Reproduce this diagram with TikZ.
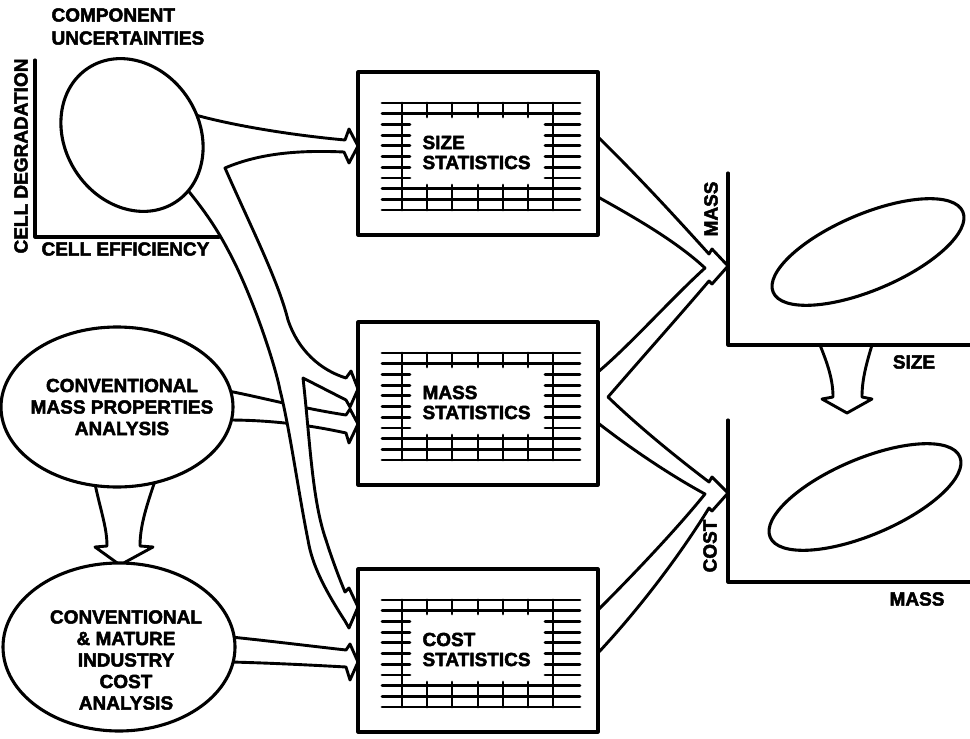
\documentclass[tikz,border=0pt]{standalone}
\usepackage{fontspec}
\setmainfont{Liberation Sans}[BoldFeatures={FakeBold=2.5}]
\usetikzlibrary{shapes.geometric}

% statistics grid inside a box whose top edge is at #1
\newcommand{\statgrid}[1]{%
  \begin{scope}[shift={(0,#1)}, line width=2.8pt]
    \foreach \r in {31,41.7,116.6,127.3,138} \draw (382,\r) -- (580,\r);
    \foreach \r in {52.4,63.1,73.8,84.5,95.2,105.9} {%
      \draw (382,\r) -- (410,\r);
      \draw (545,\r) -- (580,\r);}
    \draw (402,31) -- (402,138);
    \draw (553,31) -- (553,138);
    \foreach \c in {427,452,478,503,528} {%
      \draw (\c,31) -- (\c,45);
      \draw (\c,113) -- (\c,138);}
  \end{scope}}

\begin{document}
\begin{tikzpicture}[x=1pt, y=-1pt,
  line width=3.1pt, line join=round, line cap=round,
  lbl/.style={font=\fontsize{19}{21.5}\selectfont\bfseries, inner sep=0pt, align=center},
  band/.style={draw, fill=white, line width=2.9pt},
  statbox/.style={draw, line width=3.1pt, minimum width=240, minimum height=163,
                  anchor=north west, inner sep=0pt, outer sep=0pt},
  blob/.style={draw, fill=white, ellipse, inner sep=0pt, outer sep=0pt, line width=3.1pt},
]
\useasboundingbox (0,0) rectangle (970,739);

% ---------- hollow arrows, left half ----------
% conventional mass properties -> mass statistics (passes under the big band)
\draw[band] (228,391) .. controls (260,397) and (300,408) .. (346,415)
  -- (350,409) -- (358,424) -- (349,443) -- (346,433)
  .. controls (310,425) and (270,420) .. (228,420) -- cycle;

% component uncertainties -> size / mass / cost statistics
\draw[band] (192,114) .. controls (230,125) and (290,135) .. (345,140)
  -- (349,129) -- (358,146) -- (349,163) -- (344,152)
  .. controls (300,150) and (260,153) .. (225,168)
  .. controls (250,225) and (278,280) .. (288,320)
  .. controls (298,350) and (320,370) .. (346,378)
  -- (351,371) -- (358,389) -- (350,407) -- (346,400)
  -- (303,378)
  .. controls (310,440) and (312,500) .. (326,540)
  .. controls (333,562) and (340,580) .. (345,592)
  -- (349,588) -- (358,607) -- (349,628) -- (345,621)
  .. controls (325,590) and (312,565) .. (308,540)
  .. controls (298,490) and (290,430) .. (280,390)
  .. controls (274,360) and (250,290) .. (228,250)
  .. controls (215,225) and (200,205) .. (186,188) -- cycle;

% cost analysis -> cost statistics
\draw[band] (231,637) .. controls (270,641) and (310,646) .. (346,650)
  -- (350,644) -- (358,662) -- (350,680) -- (346,667)
  .. controls (310,665) and (270,663) .. (231,662) -- cycle;

% mass properties analysis -> cost analysis
\draw[band] (95,484) .. controls (101,512) and (107,528) .. (107,546)
  -- (95,547) -- (120,565) -- (153,547) -- (140,546)
  .. controls (140,528) and (145,510) .. (155,481) -- cycle;

% ---------- hollow arrows, right half ----------
\draw[band] (598,137)
  .. controls (640,178) and (680,222) .. (709,254)
  -- (712,249) -- (728,266) -- (712,284) -- (709,281)
  .. controls (680,315) and (640,360) .. (608,397)
  .. controls (640,428) and (680,460) .. (709,482)
  -- (712,477) -- (728,493) -- (712,511) -- (709,508)
  .. controls (680,555) and (640,608) .. (598,653)
  -- (598,610)
  .. controls (640,568) and (680,525) .. (705,494)
  .. controls (670,475) and (630,448) .. (598,423)
  -- (598,372)
  .. controls (630,345) and (670,300) .. (705,268)
  .. controls (675,240) and (630,215) .. (598,197) -- cycle;

% mass vs size -> cost vs mass
\draw[band] (820,345) .. controls (828,365) and (833,380) .. (833,397)
  -- (822,399) -- (847,413) -- (872,399) -- (862,397)
  .. controls (862,380) and (866,365) .. (872,345);

% ---------- component uncertainties plot ----------
\draw (35,60) -- (35,237) -- (219,237);
\node[blob, minimum width=160, minimum height=134, rotate=-57] (comp) at (132,135) {};
\node[lbl, anchor=west] (compa) at (50,15) {COMPONENT};
\node[lbl, anchor=west] (compb) at (50,38) {UNCERTAINTIES};
\node[lbl, anchor=west] (eff) at (40,249) {CELL EFFICIENCY};
\node[lbl, rotate=90] (degr) at (21,156) {CELL DEGRADATION};

% ---------- analysis ellipses ----------
\node[blob, minimum width=232, minimum height=160] (massan) at (117,407) {};
\node[lbl] (massantxt) at (122,407) {CONVENTIONAL\\MASS PROPERTIES\\ANALYSIS};
\node[blob, minimum width=232, minimum height=168] (costan) at (119,647) {};
\node[lbl] (costantxt) at (126,660) {CONVENTIONAL\\\& MATURE\\INDUSTRY\\COST\\ANALYSIS};

% ---------- statistics boxes ----------
\node[statbox] (sizebox) at (358,72) {};
\statgrid{72}
\node[lbl, anchor=west] (sizea) at (421,142.5) {SIZE};
\node[lbl, anchor=west] (sizeb) at (421,162.5) {STATISTICS};

\node[statbox] (massbox) at (358,322) {};
\statgrid{322}
\node[lbl, anchor=west] (massa) at (421,392.5) {MASS};
\node[lbl, anchor=west] (massb) at (421,412.5) {STATISTICS};

\node[statbox] (costbox) at (358,569) {};
\statgrid{569}
\node[lbl, anchor=west] (costa) at (421,639.5) {COST};
\node[lbl, anchor=west] (costb) at (421,659.5) {STATISTICS};

% ---------- result plots ----------
\draw (728,173) -- (728,345) -- (970,345);
\node[blob, minimum width=206, minimum height=76, rotate=23] (massize) at (868,252) {};
\node[lbl, rotate=90] (ymass) at (711,209) {MASS};
\node[lbl] (xsize) at (914,362) {SIZE};

\draw (728,420) -- (728,582) -- (970,582);
\node[blob, minimum width=206, minimum height=76, rotate=23] (costmass) at (865,497) {};
\node[lbl, rotate=90] (ycost) at (710,546) {COST};
\node[lbl] (xmass) at (917,599) {MASS};
\end{tikzpicture}
\end{document}
